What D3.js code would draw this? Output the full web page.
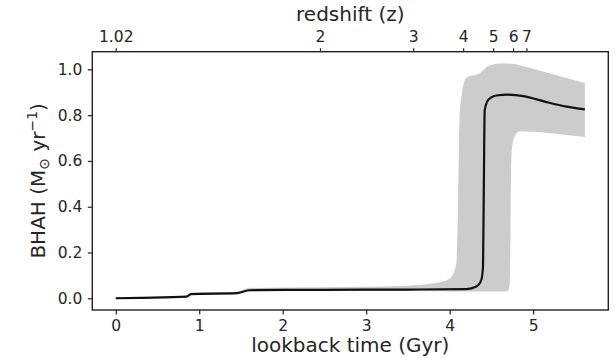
<!DOCTYPE html>
<html lang="en">
    <head>
        <title>bhah</title>
        <script src="https://cdn.jsdelivr.net/npm/d3@7"></script>
        <style>
            body { margin: 0; background: #fff; }
            text { font-family: "DejaVu Sans", sans-serif; fill: #262626; }
        </style>
    </head>
    <body>
        <div id="graph"></div>
    </body>
    <script>
        // mean accretion history (lookback time in Gyr)
        const meanT = [0, 0.3, 0.85, 0.9, 1.45, 1.6, 2.5, 3.5, 4.2, 4.32, 4.38, 4.4, 4.41, 4.42, 4.45, 4.5, 4.56, 4.7, 4.9, 5.15, 5.4, 5.62];
        const meanV = [0, 0.002, 0.007, 0.018, 0.022, 0.035, 0.037, 0.038, 0.040, 0.051, 0.08, 0.14, 0.5, 0.82, 0.86, 0.878, 0.886, 0.89, 0.882, 0.858, 0.837, 0.825];

        // spread band
        const bandT  = [0, 0.85, 0.9, 1.45, 1.6, 2.5, 3.5, 3.8, 4.0, 4.08, 4.1, 4.12, 4.15, 4.2, 4.36, 4.46, 4.6, 4.7, 4.72, 4.73, 4.74, 4.77, 4.84, 5.16, 5.4, 5.62];
        const bandHi = [0.003, 0.011, 0.024, 0.028, 0.045, 0.048, 0.055, 0.064, 0.085, 0.15, 0.4, 0.8, 0.9, 0.964, 0.983, 1.015, 1.026, 1.026, 1.025, 1.025, 1.025, 1.024, 1.018, 0.986, 0.962, 0.94];
        const bandLo = [0, 0.004, 0.014, 0.018, 0.03, 0.032, 0.032, 0.031, 0.03, 0.029, 0.029, 0.029, 0.029, 0.029, 0.029, 0.029, 0.029, 0.032, 0.06, 0.3, 0.62, 0.70, 0.73, 0.723, 0.713, 0.705];

        // ticks
        const xTicks = [0, 1, 2, 3, 4, 5];
        const yTicks = [0, 0.2, 0.4, 0.6, 0.8, 1.0];
        const zTickLabels = ["1.02", "2", "3", "4", "5", "6", "7"];
        const zTickTimes  = [0, 2.447, 3.564, 4.162, 4.521, 4.760, 4.920];

        var W = 615, H = 358;
        var m = {left: 92.3, right: 6.7, top: 51.7, bottom: 48};

        var svg = d3.select("#graph").append("svg").attr("width", W).attr("height", H);

        // matplotlib style 5% margins
        var tExt = d3.extent(bandT), tSpan = tExt[1] - tExt[0];
        var vExt = [d3.min(bandLo), d3.max(bandHi)], vSpan = vExt[1] - vExt[0];

        var x = d3.scaleLinear()
            .domain([tExt[0] - 0.05 * tSpan, tExt[1] + 0.05 * tSpan])
            .range([m.left, W - m.right]);
        var y = d3.scaleLinear()
            .domain([vExt[0] - 0.05 * vSpan, vExt[1] + 0.05 * vSpan])
            .range([H - m.bottom, m.top]);

        var band = bandT.map((t, i) => [t, bandLo[i], bandHi[i]]);
        svg.append("path")
            .datum(band)
            .attr("fill", "#cccccc")
            .attr("d", d3.area().curve(d3.curveMonotoneX)
                .x(d => x(d[0])).y0(d => y(d[1])).y1(d => y(d[2])));

        var mean = meanT.map((t, i) => [t, meanV[i]]);
        svg.append("path")
            .datum(mean)
            .attr("fill", "none")
            .attr("stroke", "#111")
            .attr("stroke-width", 2.2)
            .attr("d", d3.line().curve(d3.curveMonotoneX).x(d => x(d[0])).y(d => y(d[1])));

        // axes
        var gBottom = svg.append("g")
            .attr("transform", "translate(0," + (H - m.bottom) + ")")
            .call(d3.axisBottom(x).tickValues(xTicks).tickFormat(d3.format("d")).tickSize(4.5).tickPadding(5));
        var gLeft = svg.append("g")
            .attr("transform", "translate(" + m.left + ",0)")
            .call(d3.axisLeft(y).tickValues(yTicks).tickFormat(d3.format(".1f")).tickSize(4.5).tickPadding(5.5));
        var gTop = svg.append("g")
            .attr("transform", "translate(0," + m.top + ")")
            .call(d3.axisTop(x).tickValues(zTickTimes).tickFormat((d, i) => zTickLabels[i]).tickSize(3.5).tickPadding(6));

        [gBottom, gLeft, gTop].forEach(g => {
            g.select(".domain").remove();
            g.selectAll("line").attr("stroke", "#222").attr("stroke-width", 1.2);
            g.selectAll("text").attr("font-size", 15.5).attr("fill", "#262626");
        });

        // frame
        svg.append("rect")
            .attr("x", m.left).attr("y", m.top)
            .attr("width", W - m.left - m.right).attr("height", H - m.top - m.bottom)
            .attr("fill", "none").attr("stroke", "#222").attr("stroke-width", 1.4);

        // labels
        svg.append("text").attr("x", (m.left + W - m.right) / 2).attr("y", 352)
            .attr("text-anchor", "middle").attr("font-size", 20).text("lookback time (Gyr)");
        svg.append("text").attr("x", (m.left + W - m.right) / 2).attr("y", 20.5)
            .attr("text-anchor", "middle").attr("font-size", 20).text("redshift (z)");

        var yl = svg.append("text")
            .attr("transform", "translate(45," + ((m.top + H - m.bottom) / 2) + ") rotate(-90)")
            .attr("text-anchor", "middle").attr("font-size", 20);
        yl.append("tspan").text("BHAH (M");
        yl.append("tspan").attr("font-size", 14).attr("dy", 4).text("\u2299");
        yl.append("tspan").attr("dy", -4).text(" yr");
        yl.append("tspan").attr("font-size", 14).attr("dy", -8).text("\u22121");
        yl.append("tspan").attr("dy", 8).text(")");
    </script>
</html>
